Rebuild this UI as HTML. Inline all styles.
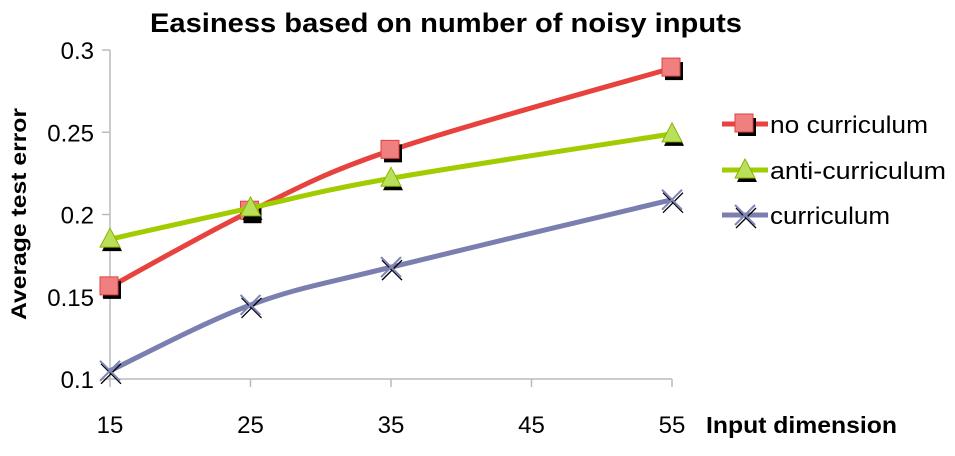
<!DOCTYPE html>
<html><head><meta charset="utf-8"><style>
body{margin:0;background:#fff;width:955px;height:451px;overflow:hidden}
svg{font-family:"Liberation Sans",sans-serif}
</style></head><body>
<svg id="c" width="955" height="451">
<text x="446" y="32" text-anchor="middle" font-size="27" font-weight="bold" textLength="592" lengthAdjust="spacingAndGlyphs">Easiness based on number of noisy inputs</text>
<text transform="translate(26,214) rotate(-90)" text-anchor="middle" font-size="21" font-weight="bold" textLength="212" lengthAdjust="spacingAndGlyphs">Average test error</text>
<text x="706" y="433" font-size="23" font-weight="bold" textLength="191" lengthAdjust="spacingAndGlyphs">Input dimension</text>
</svg>
<script>
const xTicks=[15,25,35,45,55];
const yTicks=[0.1,0.15,0.2,0.25,0.3];
const xs=[15,25,35,55];
const noCurr=[0.156,0.202,0.239,0.289];
const antiCurr=[0.185,0.204,0.222,0.249];
const curr=[0.105,0.145,0.168,0.209];
const svg=document.getElementById('c');
const NS='http://www.w3.org/2000/svg';
const X=v=>110+(v-15)*(672-110)/40;
const Y=v=>379-(v-0.1)*(379-50)/0.2;
function mk(t,a,p){const e=document.createElementNS(NS,t);for(const k in a)e.setAttribute(k,a[k]);(p||svg).appendChild(e);return e;}
let e=mk('line',{x1:110,y1:Y(0.3),x2:110,y2:379,stroke:'#bbb','stroke-width':1.5});


e=mk('line',{x1:110,y1:379,x2:672,y2:379,stroke:'#bbb','stroke-width':1.5});


yTicks.forEach(v=>{
 mk('line',{x1:102,x2:110,y1:Y(v),y2:Y(v),stroke:'#bbb','stroke-width':1.5});
 const t=mk('text',{x:94,y:Y(v)+9,'text-anchor':'end','font-size':24});t.textContent=String(v);
 
 
});
xTicks.forEach(v=>{
 mk('line',{x1:X(v),x2:X(v),y1:379,y2:387,stroke:'#bbb','stroke-width':1.5});
 const t=mk('text',{x:X(v),y:433,'text-anchor':'middle','font-size':24});t.textContent=String(v);
 
 
});
function path(vals){
 const p=xs.map((x,i)=>[X(x),Y(vals[i])]);
 let d='M'+p[0][0]+','+p[0][1];
 for(let i=0;i<p.length-1;i++){
  const p0=p[i-1]||p[i],p1=p[i],p2=p[i+1],p3=p[i+2]||p2;
  const c1=[p1[0]+(p2[0]-p0[0])/6,p1[1]+(p2[1]-p0[1])/6];
  const c2=[p2[0]-(p3[0]-p1[0])/6,p2[1]-(p3[1]-p1[1])/6];
  d+=`C${c1[0]},${c1[1]} ${c2[0]},${c2[1]} ${p2[0]},${p2[1]}`;
 }
 return d;
}
function marker(kind,x,y,g){
 if(kind==='sq'){
  mk('rect',{x:x-7,y:y-6,width:18,height:18,fill:'#000'},g);
  mk('rect',{x:x-10,y:y-10,width:18,height:18,fill:'#f08080',stroke:'#e04040','stroke-width':1},g);
 }else if(kind==='tri'){
  mk('polygon',{points:`${x+2},${y-8} ${x+12},${y+12} ${x-8},${y+12}`,fill:'#000'},g);
  mk('polygon',{points:`${x},${y-11} ${x+10},${y+8} ${x-10},${y+8}`,fill:'#b8e05a',stroke:'#8cb400','stroke-width':1},g);
 }else{
  mk('path',{d:`M${x-9},${y-7}L${x+11},${y+13}M${x+11},${y-7}L${x-9},${y+13}`,stroke:'#000','stroke-width':1.3},g);
  mk('path',{d:`M${x-10},${y-10}L${x+10},${y+10}M${x+10},${y-10}L${x-10},${y+10}`,stroke:'#8085b8','stroke-width':2},g);
 }
}
const series=[['no-curriculum',noCurr,'#e8423f','sq','no curriculum',124,158],['anti-curriculum',antiCurr,'#a0cc00','tri','anti-curriculum',170,176],['curriculum',curr,'#7b7fb0','x','curriculum',215,120]];
series.forEach(([n,vals,col,kind,label,ly,tw])=>{
 const g=mk('g',{});
 
 
 mk('path',{d:path(vals),fill:'none',stroke:col,'stroke-width':5},g);
 xs.forEach((x,i)=>marker(kind,X(x),Y(vals[i]),g));
 const lg=mk('g',{});
 
 
 mk('line',{x1:722,x2:768,y1:ly,y2:ly,stroke:col,'stroke-width':5},lg);
 marker(kind,745,ly,lg);
 const t=mk('text',{x:770,y:ly+9,'font-size':24,textLength:tw,lengthAdjust:'spacingAndGlyphs'},lg);t.textContent=label;
});
</script>
</body></html>
